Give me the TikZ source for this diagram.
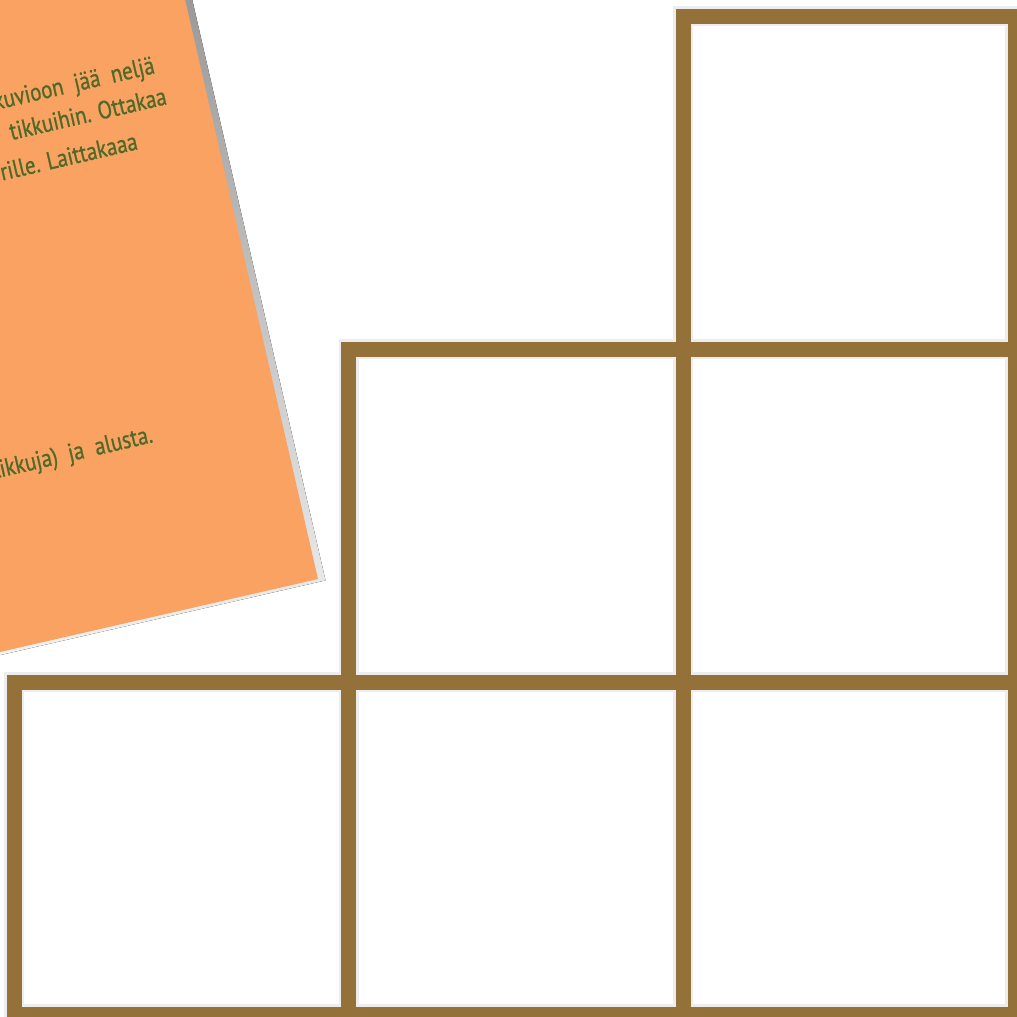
\documentclass[tikz,border=0pt]{standalone}
\usepackage{fontspec}
\newfontfamily\notefont[FakeStretch=0.84,FakeBold=0.8]{PT Sans}
\definecolor{paper}{RGB}{249,162,98}
\definecolor{ink}{RGB}{79,106,40}
\definecolor{stick}{RGB}{149,113,58}
\definecolor{shade}{RGB}{182,182,182}
\begin{document}
\begin{tikzpicture}[x=1pt,y=-1pt,
  notetext/.style={font=\notefont\fontsize{25}{29}\selectfont, text=ink, rotate=13, anchor=base east, inner sep=0pt},
  stickline/.style={line width=15pt, draw=stick, line cap=rect},
  stickshade/.style={line width=20pt, draw=black!7, line cap=rect}]
\useasboundingbox (0,0) rectangle (1017,1017);
\begin{scope}
\clip (0,0) rectangle (1017,1017);
% note paper
\coordinate (BR) at (318,579);
\coordinate (TR) at (139,-201);
\coordinate (BL) at (-462,758);
\coordinate (TL) at (-641,-22);
\fill[shade] ([shift={(7.5,1.4)}]TL) -- ([shift={(7.5,1.4)}]TR) -- ([shift={(7.5,1.4)}]BR) -- ([shift={(7.5,1.4)}]BL) -- cycle;
\fill[paper] (TL) -- (TR) -- (BR) -- (BL) -- cycle;
\node[notetext] (l1) at (156,73) {kuvioon\hspace{0.45em}jää\hspace{0.45em}neljä};
\node[notetext] (l2) at (168,104) {tikkuihin. Ottakaa};
\node[notetext] (l3) at (139,149) {rille. Laittakaaa};
\node[notetext] (l4) at (154,442) {tikkuja)\hspace{0.45em}ja\hspace{0.45em}alusta.};
% grid points
\coordinate (a1) at (683,16);   \coordinate (a2) at (1015,16);
\coordinate (b0) at (348.5,349); \coordinate (b1) at (683,349); \coordinate (b2) at (1015,349);
\coordinate (c-) at (14,682); \coordinate (c0) at (348.5,682); \coordinate (c1) at (683,682); \coordinate (c2) at (1015,682);
\coordinate (d-) at (14,1014); \coordinate (d0) at (348.5,1014); \coordinate (d1) at (683,1014); \coordinate (d2) at (1015,1014);
\foreach \p/\q in {a1/a2,b0/b2,c-/c2,d-/d2,a1/d1,b0/d0,c-/d-,a2/d2}{
  \draw[stickshade] (\p) -- (\q);
}
\foreach \p/\q in {a1/a2,b0/b2,c-/c2,d-/d2,a1/d1,b0/d0,c-/d-,a2/d2}{
  \draw[stickline] (\p) -- (\q);
}
\end{scope}
\end{tikzpicture}
\end{document}
